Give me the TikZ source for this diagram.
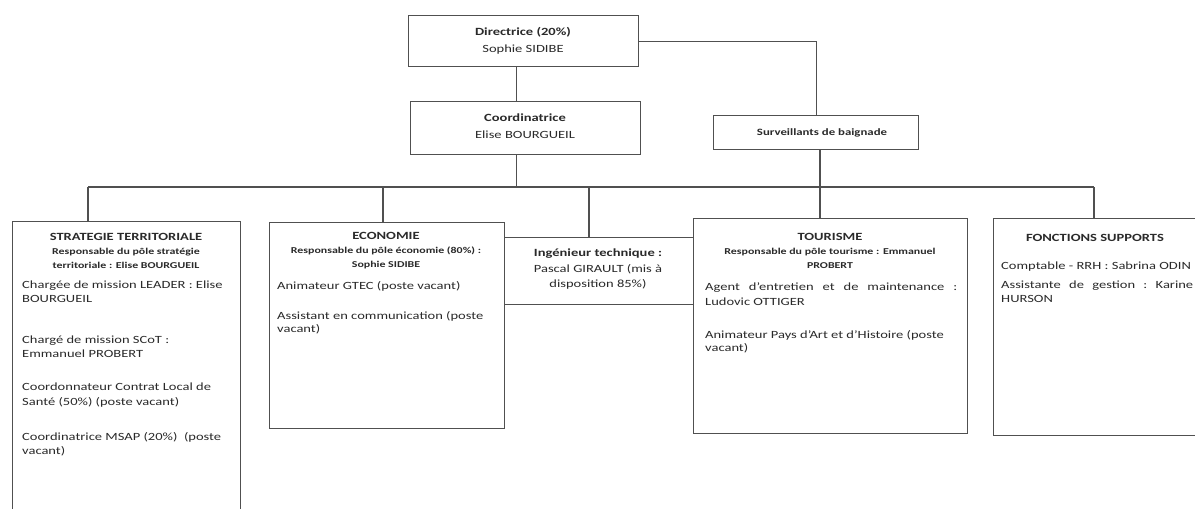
\documentclass[tikz,border=0pt]{standalone}
\usepackage{fontspec}
\setmainfont{Carlito}[FakeStretch=1.32]
\definecolor{ln}{HTML}{505050}
\definecolor{tx}{HTML}{2a2a2a}
\tikzset{
  x=1pt,y=-1pt,
  box/.style={draw=ln,line width=1.4pt,fill=white,rectangle,inner sep=0pt,anchor=north west},
  con/.style={draw=ln,line width=1.4pt},
  hd/.style={inner sep=0pt,anchor=base,text=tx,font=\fontsize{11}{13}\selectfont\bfseries},
  sub/.style={inner sep=0pt,anchor=base,text=tx,font=\fontsize{9}{11}\selectfont\bfseries},
  body/.style={inner sep=0pt,anchor=base west,text=tx,font=\fontsize{11}{14}\selectfont},
  cbody/.style={inner sep=0pt,anchor=base,text=tx,font=\fontsize{11}{14}\selectfont},
}
\begin{document}
\begin{tikzpicture}
\useasboundingbox (0,0) rectangle (1195,509);
\begin{scope}
\clip (0,0) rectangle (1195,509);
% boxes
\node[box,minimum width=230,minimum height=51] (dir) at (408,15) {};
\node[box,minimum width=230,minimum height=53] (coord) at (410,101) {};
\node[box,minimum width=205,minimum height=34] (surv) at (713,115) {};
\node[box,minimum width=228,minimum height=300] (strat) at (12,221) {};
\node[box,minimum width=235,minimum height=206] (eco) at (269,222) {};
\node[box,minimum width=189,minimum height=67] (ing) at (504,237) {};
\node[box,minimum width=274,minimum height=215] (tour) at (693,218) {};
\node[box,minimum width=210,minimum height=217] (fonc) at (993,218) {};
% bus
\coordinate (busL) at (88,187);
\coordinate (busR) at (1094,187);
% connectors
\draw[con] ([xshift=-7pt]dir.south) -- ([xshift=-7pt]dir.south |- coord.north);
\draw[con] (dir.east) -| (surv.north);
\draw[con] ([xshift=-9pt]coord.south) -- ([xshift=-9pt]coord.south |- busL);
\draw[con] (busL) -- (busR);
\draw[con] (busL) -- (busL |- strat.north);
\draw[con] (383,0 |- busL) -- (383,0 |- eco.north);
\draw[con] (589,0 |- busL) -- (589,0 |- ing.north);
\draw[con] (820,0 |- surv.south) -- (820,0 |- tour.north);
\draw[con] (busR) -- (busR |- fonc.north);
% texts top
\node[hd] (t1) at (523,35) {Directrice (20\%)};
\node[cbody] (t2) at (523,52) {Sophie SIDIBE};
\node[hd] (t3) at (525,121) {Coordinatrice};
\node[cbody] (t4) at (525,138) {Elise BOURGUEIL};
\node[hd,font=\fontsize{9.7}{12}\selectfont\bfseries] (t5) at (822,135) {Surveillants de baignade};
% strategie
\node[hd] (s1) at (126,240) {STRATEGIE TERRITORIALE};
\node[sub] (s2) at (126,254) {Responsable du pôle stratégie};
\node[sub] (s3) at (126,268) {territoriale : Elise BOURGUEIL};
\node[body] (s4a) at (22,288) {Chargée de mission LEADER : Elise};
\node[body] (s4b) at (22,302) {BOURGUEIL};
\node[body] (s5a) at (22,343) {Chargé de mission SCoT :};
\node[body] (s5b) at (22,357) {Emmanuel PROBERT};
\node[body] (s6a) at (22,390) {Coordonnateur Contrat Local de};
\node[body] (s6b) at (22,405) {Santé (50\%) (poste vacant)};
\node[body] (s7a) at (22,440) {Coordinatrice MSAP (20\%)\ \ (poste};
\node[body] (s7b) at (22,454) {vacant)};
% economie
\node[hd] (e1) at (386,239) {ECONOMIE};
\node[sub] (e2) at (386,253) {Responsable du pôle économie (80\%) :};
\node[sub] (e3) at (386,267) {Sophie SIDIBE};
\node[body] (e4) at (277,289) {Animateur GTEC (poste vacant)};
\node[body] (e5a) at (277,319) {Assistant en communication (poste};
\node[body] (e5b) at (277,332) {vacant)};
% ingenieur
\node[hd] (i1) at (598,256) {Ingénieur technique :};
\node[cbody] (i2) at (598,272) {Pascal GIRAULT (mis à};
\node[cbody] (i3) at (598,287) {disposition 85\%)};
% tourisme
\node[hd] (o1) at (830,240) {TOURISME};
\node[sub] (o2) at (830,254) {Responsable du pôle tourisme : Emmanuel};
\node[sub] (o3) at (830,268) {PROBERT};
\node[body] (o4a) at (705,290) {\hbox to 252pt{Agent\hfill d’entretien\hfill et\hfill de\hfill maintenance\hfill:}};
\node[body] (o4b) at (705,305) {Ludovic OTTIGER};
\node[body] (o5a) at (705,338) {Animateur Pays d’Art et d’Histoire (poste};
\node[body] (o5b) at (705,351) {vacant)};
% fonctions
\node[hd] (f1) at (1095,241) {FONCTIONS SUPPORTS};
\node[body] (f2) at (1001,269) {Comptable - RRH : Sabrina ODIN};
\node[body] (f3a) at (1001,288) {\hbox to 192pt{Assistante\hfill de\hfill gestion\hfill:\hfill Karine}};
\node[body] (f3b) at (1001,302) {HURSON};
\end{scope}
\end{tikzpicture}
\end{document}
